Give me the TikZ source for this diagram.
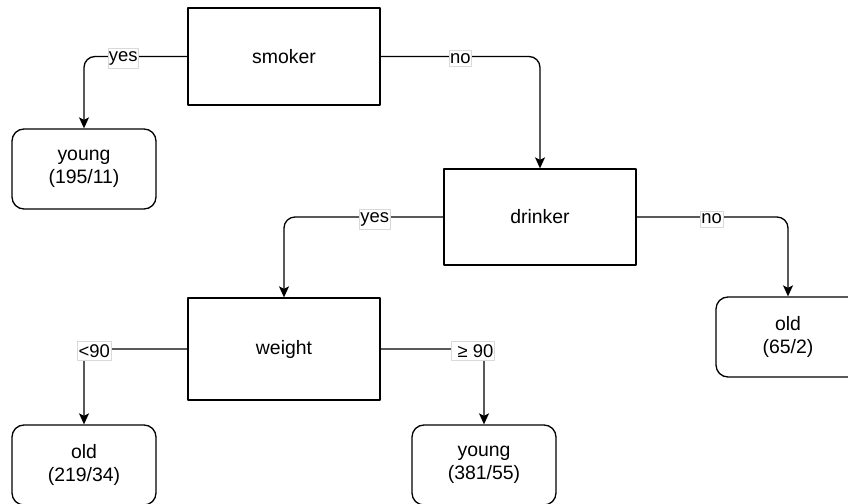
\documentclass[tikz,border=0pt]{standalone}
\usepackage{fontspec}
\setmainfont{Liberation Sans}
\usetikzlibrary{arrows.meta}
\tikzset{>={Stealth[length=11bp, width=10bp, inset=2.5bp]}}
\tikzset{test/.style={draw, line width=1.3bp, minimum width=192bp, inner sep=0pt,
    font=\fontsize{19.5}{23}\selectfont}}
\tikzset{leaf/.style={draw, line width=1.3bp, rounded corners=12bp, minimum width=144bp,
    minimum height=80bp, align=center, inner sep=0pt, font=\fontsize{19.5}{23}\selectfont}}
\tikzset{branch/.style={->, line width=1.3bp, rounded corners=11bp}}
\tikzset{lbl/.style={fill=white, draw=gray!30, line width=0.6bp, inner xsep=1bp,
    inner ysep=3bp, yshift=-2bp, font=\fontsize{18.5}{20}\selectfont, rounded corners=0pt}}

\begin{document}
\begin{tikzpicture}[x=1bp, y=-1bp, line join=round]
\useasboundingbox (0,0) rectangle (848,504);
\clip (0,0) rectangle (848,504);

% tests
\node[test, minimum height=97bp] (smoker) at (284,56.5) {smoker};
\node[test, minimum height=96bp] (drinker) at (540,217) {drinker};
\node[test, minimum height=102bp] (weight) at (284,349) {weight};

% leaves
\node[leaf] (young1) at (84,169) {young\\(195/11)};
\node[leaf] (old2) at (788,337) {old\\(65/2)};
\node[leaf] (old1) at (84,465) {old\\(219/34)};
\node[leaf] (young2) at (484,465) {young\\(381/55)};

% branches
\draw[branch] (smoker.west) -| node[lbl, pos=0.31] {yes} (young1.north);
\draw[branch] (smoker.east) -| node[lbl, pos=0.25] {no} (drinker.north);
\draw[branch] (drinker.west) -| node[lbl, pos=0.215] {yes} (weight.north);
\draw[branch] (drinker.east) -| node[lbl, pos=0.248] {no} (old2.north);
\draw[branch] (weight.west) -| node[lbl, pos=0.45] {<90} (old1.north);
\draw[branch] (weight.east) -| node[lbl, pos=0.447] {\ ≥ 90} (young2.north);

\end{tikzpicture}
\end{document}
